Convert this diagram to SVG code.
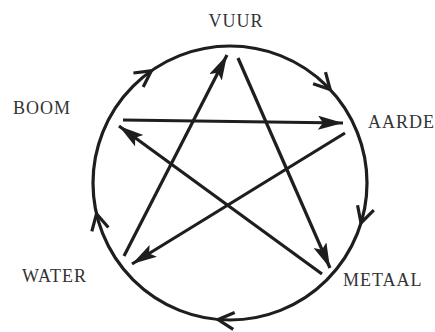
<svg xmlns="http://www.w3.org/2000/svg" width="435" height="332" viewBox="0 0 435 332">
<style>
.lbl{font-family:"Liberation Serif","Times New Roman",serif;font-size:18px;fill:#333;letter-spacing:1px}
.ln{stroke:#1e1e1e;stroke-width:3.2;fill:none}
.chev{stroke:#1e1e1e;stroke-width:3.2;fill:none;stroke-linejoin:miter}
</style>
<defs>
<marker id="ah" markerUnits="userSpaceOnUse" markerWidth="28" markerHeight="16" refX="25" refY="7" orient="auto">
<path d="M0,0 L25,7 L0,14 L5,7 z" fill="#1e1e1e"/>
</marker>
<path id="cv" class="chev" d="M-16,-8.5 L0,0 L-16,8.5"/>
</defs>
<rect width="435" height="332" fill="#fff"/>
<g id="connectors">
<circle class="ln" cx="230" cy="183" r="137"/>
<use href="#cv" transform="translate(151.4,70.8) rotate(-35)"/>
<use href="#cv" transform="translate(330.2,89.6) rotate(47)"/>
<use href="#cv" transform="translate(361,223) rotate(107)"/>
<use href="#cv" transform="translate(218,319.5) rotate(185)"/>
<use href="#cv" transform="translate(96.5,213.8) rotate(257)"/>
<line class="ln" x1="124" y1="256" x2="227" y2="55" marker-end="url(#ah)"/>
<line class="ln" x1="238" y1="58" x2="330" y2="268" marker-end="url(#ah)"/>
<line class="ln" x1="322" y1="274" x2="119" y2="126" marker-end="url(#ah)"/>
<line class="ln" x1="123" y1="120" x2="343" y2="123" marker-end="url(#ah)"/>
<line class="ln" x1="345" y1="133" x2="132" y2="264" marker-end="url(#ah)"/>
</g>
<g id="vuur"><text class="lbl" x="236" y="27" text-anchor="middle">VUUR</text></g>
<g id="boom"><text class="lbl" x="13" y="114">BOOM</text></g>
<g id="aarde"><text class="lbl" x="368" y="128">AARDE</text></g>
<g id="water"><text class="lbl" x="22" y="282">WATER</text></g>
<g id="metaal"><text class="lbl" x="343" y="286">METAAL</text></g>
</svg>
